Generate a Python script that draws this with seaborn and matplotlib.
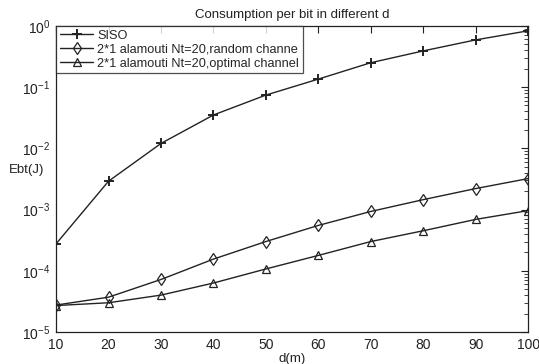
import numpy as np
import pandas as pd
import matplotlib
matplotlib.use("Agg")
import matplotlib.pyplot as plt
import seaborn as sns
from matplotlib.ticker import LogLocator, NullFormatter

d = [10, 20, 30, 40, 50, 60, 70, 80, 90, 100]
siso = [2.75e-4, 2.9e-3, 1.2e-2, 3.5e-2, 7.4e-2, 0.135, 0.25, 0.39, 0.59, 0.83]
random_ch = [2.75e-5, 3.7e-5, 7.2e-5, 1.55e-4, 3.0e-4, 5.5e-4, 9.3e-4, 1.45e-3, 2.2e-3, 3.2e-3]
optimal_ch = [2.7e-5, 3.0e-5, 4.0e-5, 6.3e-5, 1.07e-4, 1.78e-4, 3.0e-4, 4.5e-4, 6.9e-4, 9.6e-4]
labels = ["SISO", "2*1 alamouti Nt=20,random channe", "2*1 alamouti Nt=20,optimal channel"]

df = pd.concat([
    pd.DataFrame({"d": d, "E": siso, "s": labels[0]}),
    pd.DataFrame({"d": d, "E": random_ch, "s": labels[1]}),
    pd.DataFrame({"d": d, "E": optimal_ch, "s": labels[2]}),
])

sns.set_style("white")
plt.rcParams['font.family'] = ['Liberation Sans', 'DejaVu Sans']

fig = plt.figure(figsize=(5.39, 3.64), dpi=100)
ax = fig.add_axes([0.104, 0.088, 0.876, 0.841])

markers = {labels[0]: "+", labels[1]: "d", labels[2]: "^"}
for lab in labels:
    sub = df[df.s == lab]
    sns.lineplot(data=sub, x="d", y="E", ax=ax, color="#222222", lw=1.0,
                 marker=markers[lab], markersize=6 if lab != labels[0] else 7,
                 markerfacecolor="none" if lab != labels[0] else "#222222",
                 markeredgecolor="#222222", markeredgewidth=0.9 if lab != labels[0] else 1.4,
                 label=lab)

ax.set_yscale("log")
ax.set_xlim(10, 100)
ax.set_ylim(1e-5, 1)
ax.set_xticks(d)
ax.set_xticklabels([str(v) for v in d])
ax.yaxis.set_major_locator(LogLocator(base=10, numticks=10))
ax.yaxis.set_minor_locator(LogLocator(base=10, subs=np.arange(2, 10), numticks=10))
ax.yaxis.set_minor_formatter(NullFormatter())
ax.tick_params(which="both", direction="in", top=True, right=True, colors="#222222",
               labelsize=10, pad=4)
ax.tick_params(which="major", length=5, width=0.8)
ax.tick_params(which="minor", length=3, width=0.6)
for s in ax.spines.values():
    s.set_color("#222222")
    s.set_linewidth(0.9)

ax.set_title("Consumption per bit in different d", fontsize=9.5, color="#222222", pad=6)
ax.set_xlabel("d(m)", fontsize=9.5, color="#222222", labelpad=1)
ax.set_ylabel("Ebt(J)", fontsize=9.5, color="#222222", rotation=0,
              va="center", ha="center")
ax.yaxis.set_label_coords(-0.062, 0.53)

leg = ax.legend(loc="upper left", fontsize=9.2, frameon=True, fancybox=False,
                borderaxespad=0, handlelength=2.6, borderpad=0.3, labelspacing=0.15,
                handletextpad=0.3)
leg.get_frame().set_edgecolor("#222222")
leg.get_frame().set_linewidth(0.9)

fig.savefig("out.png", dpi=100)
